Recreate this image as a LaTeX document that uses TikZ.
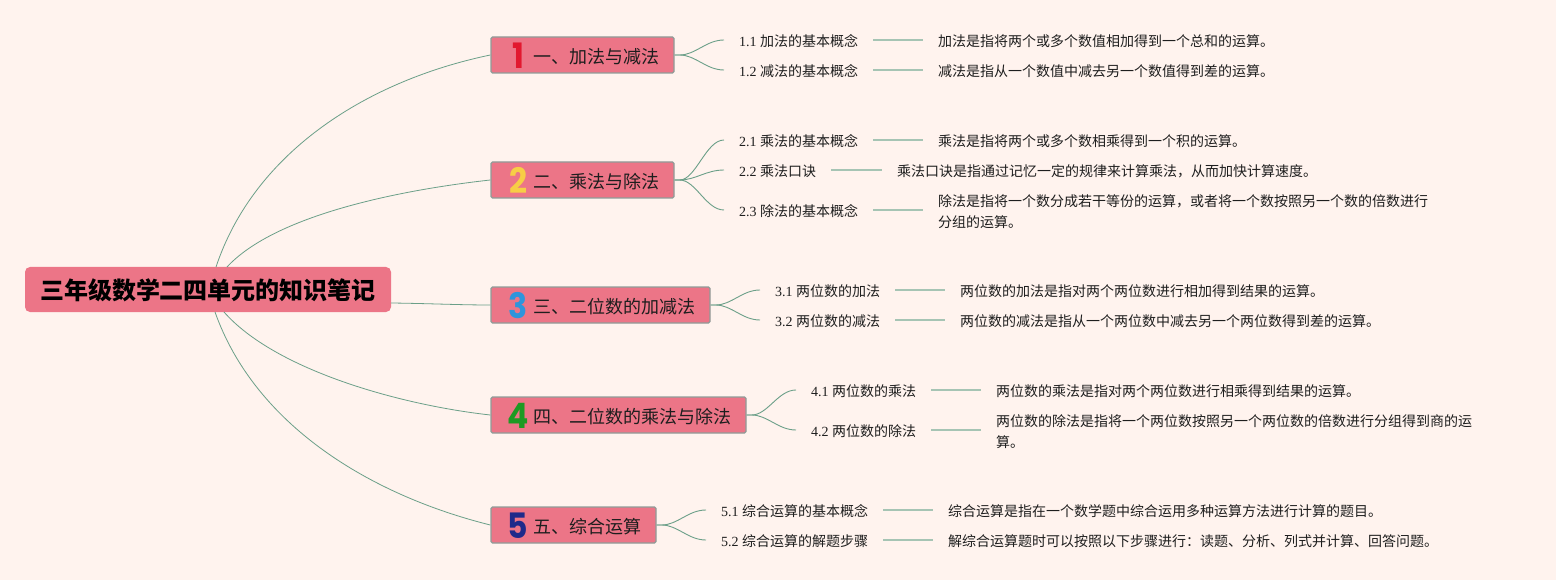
\documentclass[tikz,border=0pt]{standalone}
\usetikzlibrary{calc}
\usepackage{graphicx}
\usepackage{fontspec}
\setmainfont{Liberation Serif}
\newfontfamily\cjk{Noto Sans CJK SC}
\newfontfamily\digitfont{Poppins}
\newcommand{\lowered}[1]{\raisebox{-1.2pt}[\height][\depth]{#1}}
\newcommand{\slimdigit}[1]{\scalebox{.9}[1]{#1}}
\definecolor{bgc}{HTML}{FFF3EE}
\definecolor{boxc}{HTML}{EC7587}
\definecolor{rimc}{HTML}{8F9C98}
\definecolor{linkc}{HTML}{6B9F88}
\definecolor{leafc}{HTML}{A6C4B4}
\definecolor{inkc}{HTML}{1E1E1E}
\definecolor{dA}{HTML}{E2182F}
\definecolor{dB}{HTML}{F7CE46}
\definecolor{dC}{HTML}{2E95DC}
\definecolor{dD}{HTML}{1D9A23}
\definecolor{dE}{HTML}{1F2A8A}
\tikzset{
  x=1pt,y=-1pt,
  rootbox/.style={fill=boxc,rounded corners=5pt,minimum width=366pt,minimum height=45pt,inner sep=0pt,text=black,font=\fontsize{24}{28}\selectfont\cjk\bfseries},
  topicbox/.style={fill=boxc,draw=rimc,line width=1.4pt,rounded corners=1.5pt,minimum height=36pt,inner xsep=15pt,inner ysep=0pt,align=right,text=inkc,font=\fontsize{18}{22}\selectfont\cjk},
  digitmark/.style={inner sep=0pt,font=\fontsize{35}{35}\selectfont\digitfont\bfseries},
  sublabel/.style={anchor=west,inner xsep=15pt,inner ysep=1pt,text=inkc,font=\fontsize{14}{18}\selectfont},
  leaftext/.style={anchor=west,inner xsep=15pt,inner ysep=1pt,text=inkc,align=left,font=\fontsize{14}{21}\selectfont\cjk},
  mainlink/.style={draw=linkc,line width=0.8pt},
  sublink/.style={draw=linkc,line width=0.9pt},
  leaflink/.style={draw=leafc,line width=1.1pt},
}
\begin{document}
\begin{tikzpicture}
\useasboundingbox[fill=bgc] (0,0) rectangle (1556,580);
% root and topics
\node[rootbox] (root) at (208,289.5) {\lowered{三年级数学二四单元的知识笔记}};
\node[topicbox,text width=153pt] (t1) at (582.5,55) {\lowered{一、加法与减法}};
\node[topicbox,text width=153pt] (t2) at (582.5,180) {\lowered{二、乘法与除法}};
\node[topicbox,text width=189pt] (t3) at (600.5,305) {\lowered{三、二位数的加减法}};
\node[topicbox,text width=225pt] (t4) at (618.5,415) {\lowered{四、二位数的乘法与除法}};
\node[topicbox,text width=135pt] (t5) at (573.5,525) {\lowered{五、综合运算}};
\node[digitmark,text=dA] (n1) at (518,55.5) {\slimdigit{1}};
\node[digitmark,text=dB] (n2) at (518,180.5) {\slimdigit{2}};
\node[digitmark,text=dC] (n3) at (518,305.5) {\slimdigit{3}};
\node[digitmark,text=dD] (n4) at (518,415.5) {\slimdigit{4}};
\node[digitmark,text=dE] (n5) at (518,525.5) {\slimdigit{5}};
% sub labels
\node[sublabel] (a1) at (724,41) {1.1 {\cjk 加法的基本概念}};
\node[sublabel] (a2) at (724,71) {1.2 {\cjk 减法的基本概念}};
\node[sublabel] (b1) at (724,141) {2.1 {\cjk 乘法的基本概念}};
\node[sublabel] (b2) at (724,171) {2.2 {\cjk 乘法口诀}};
\node[sublabel] (b3) at (724,211) {2.3 {\cjk 除法的基本概念}};
\node[sublabel] (c1) at (760,291) {3.1 {\cjk 两位数的加法}};
\node[sublabel] (c2) at (760,321) {3.2 {\cjk 两位数的减法}};
\node[sublabel] (d1) at (796,391) {4.1 {\cjk 两位数的乘法}};
\node[sublabel] (d2) at (796,431) {4.2 {\cjk 两位数的除法}};
\node[sublabel] (e1) at (706,511) {5.1 {\cjk 综合运算的基本概念}};
\node[sublabel] (e2) at (706,541) {5.2 {\cjk 综合运算的解题步骤}};
% leaf texts
\node[leaftext] (la1) at (923,41) {加法是指将两个或多个数值相加得到一个总和的运算。};
\node[leaftext] (la2) at (923,71) {减法是指从一个数值中减去另一个数值得到差的运算。};
\node[leaftext] (lb1) at (923,141) {乘法是指将两个或多个数相乘得到一个积的运算。};
\node[leaftext] (lb2) at (882,171) {乘法口诀是指通过记忆一定的规律来计算乘法，从而加快计算速度。};
\node[leaftext] (lb3) at (923,211.5) {除法是指将一个数分成若干等份的运算，或者将一个数按照另一个数的倍数进行\\分组的运算。};
\node[leaftext] (lc1) at (945,291) {两位数的加法是指对两个两位数进行相加得到结果的运算。};
\node[leaftext] (lc2) at (945,321) {两位数的减法是指从一个两位数中减去另一个两位数得到差的运算。};
\node[leaftext] (ld1) at (981,391) {两位数的乘法是指对两个两位数进行相乘得到结果的运算。};
\node[leaftext] (ld2) at (981,431.5) {两位数的除法是指将一个两位数按照另一个两位数的倍数进行分组得到商的运\\算。};
\node[leaftext] (le1) at (933,511) {综合运算是指在一个数学题中综合运用多种运算方法进行计算的题目。};
\node[leaftext] (le2) at (933,541) {解综合运算题时可以按照以下步骤进行：读题、分析、列式并计算、回答问题。};
% root links
\coordinate (ra) at (216,267);
\coordinate (rb) at (227,267);
\coordinate (rc) at (224,312);
\coordinate (rd) at (215,312);
\draw[mainlink] (ra) .. controls (255,150) and (370,80) .. (t1.west);
\draw[mainlink] (rb) .. controls (275,215) and (400,190) .. (t2.west);
\draw[mainlink] (root.east) ++(0,13.5) .. controls (430,303.5) and (460,305) .. (t3.west);
\draw[mainlink] (rc) .. controls (275,370) and (400,405) .. (t4.west);
\draw[mainlink] (rd) .. controls (255,425) and (370,495) .. (t5.west);
% topic to sub links
\foreach \t/\s in {t1/a1,t1/a2,t2/b1,t2/b2,t2/b3,t3/c1,t3/c2,t4/d1,t4/d2,t5/e1,t5/e2}{
  \draw[sublink] (\t.east) -- ++(5,0) .. controls +(16,0) and ($(\s.west)+(-18,-1)$) .. ($(\s.west)+(0,-1)$);
}
% leaf links
\foreach \s/\l in {a1/la1,a2/la2,b1/lb1,b2/lb2,b3/lb3,c1/lc1,c2/lc2,d1/ld1,d2/ld2,e1/le1,e2/le2}{
  \draw[leaflink] ($(\s.east)+(0,-1)$) -- ($(\s.east -| \l.west)+(0,-1)$);
}
\end{tikzpicture}
\end{document}
